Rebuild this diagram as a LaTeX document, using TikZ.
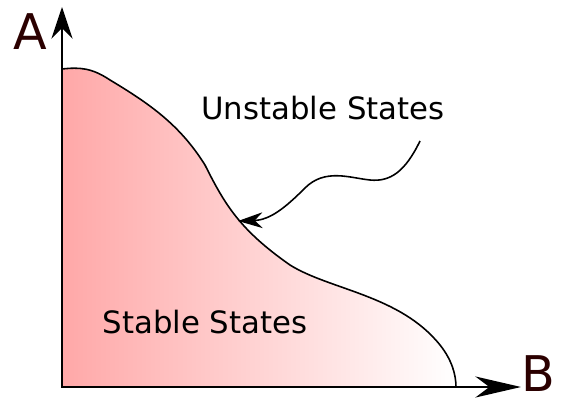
\documentclass[tikz,border=0pt]{standalone}
\usepackage{fontspec}
\setmainfont{DejaVu Sans}
\usetikzlibrary{arrows.meta}
\definecolor{axislabel}{RGB}{43,0,0}
\definecolor{stablepink}{RGB}{255,168,168}

\begin{document}
\begin{tikzpicture}[x=0.02cm,y=-0.02cm,
    axis/.style={line width=1.2pt},
    axisname/.style={text=axislabel,inner sep=0pt,font=\fontsize{28}{30}\selectfont},
    region/.style={font=\fontsize{17.5}{20}\selectfont}]
    \useasboundingbox (0,0) rectangle (561,405);

    % Stable region
    \draw[line width=0.9pt, left color=stablepink, right color=white]
        (62,387) -- (62,69) .. controls (80,67) and (92,68) .. (110,80)
        .. controls (150,104) and (180,125) .. (205,165)
        .. controls (225,205) and (240,230) .. (290,265)
        .. controls (330,290) and (400,295) .. (440,345)
        .. controls (452,360) and (456,375) .. (456,387) -- cycle;

    % Draw axes
    \coordinate (O) at (62,387);
    \coordinate (ytip) at (62,7);
    \coordinate (xtip) at (521,387);
    \draw[axis, -{Stealth[length=18pt,width=12pt,inset=6pt]}] (O) -- (ytip);
    \draw[axis, -{Stealth[length=26pt,width=12pt,inset=8pt]}] (O) -- (xtip);
    \node[axisname] (A) at (30,32) {A};
    \node[axisname] (B) at (538,374) {B};

    % Labels
    \node[region] (unstable) at (323,108) {Unstable States};
    \node[region] (stable) at (205,322) {Stable States};

    % Pointer to the boundary
    \coordinate (wstart) at (420,141);
    \coordinate (wend) at (238,221);
    \draw[line width=0.9pt, -{Stealth[length=14pt,width=9pt,inset=4.5pt]}]
        (wstart) .. controls (405,172) and (390,182) .. (370,180)
        .. controls (350,178) and (325,168) .. (305,188)
        .. controls (285,208) and (270,220) .. (wend);
\end{tikzpicture}
\end{document}
